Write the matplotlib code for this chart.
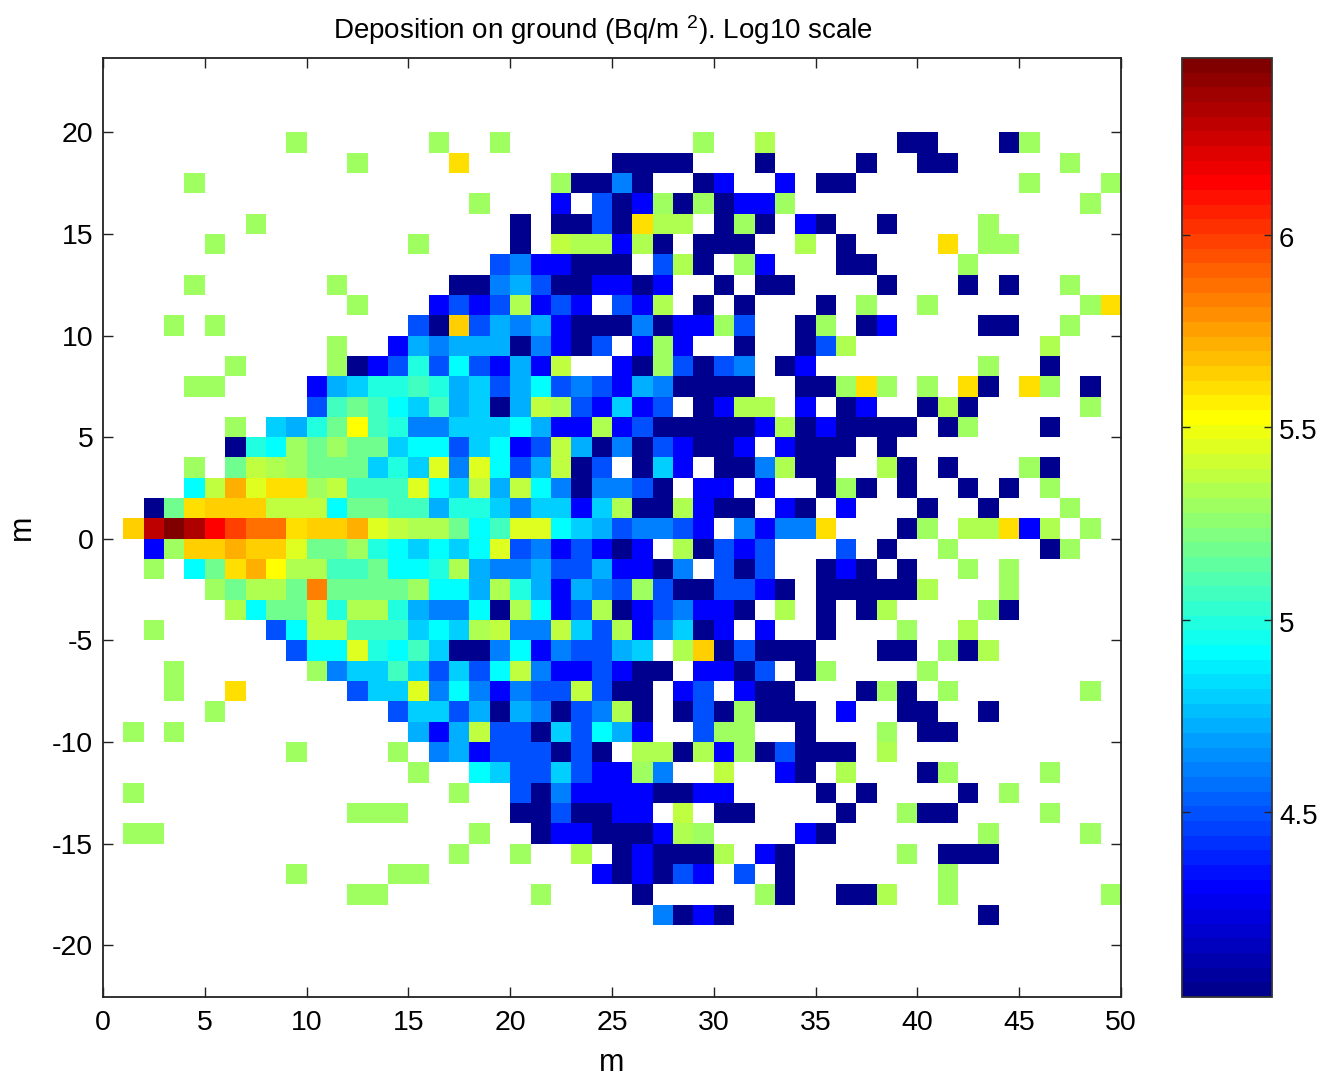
import numpy as np
import matplotlib
matplotlib.use("Agg")
import matplotlib.pyplot as plt
from matplotlib.colors import LinearSegmentedColormap
from matplotlib.transforms import ScaledTranslation

plt.rcParams['font.family'] = ['Liberation Sans', 'DejaVu Sans']
plt.rcParams['axes.unicode_minus'] = False
plt.rcParams['mathtext.default'] = 'regular'

# log10 deposition for each colour class
LEVELS = {
    'n': 4.04, 'b': 4.306, 'r': 4.497, 'a': 4.61, 's': 4.725, 'c': 4.80,
    'y': 4.915, 't': 4.99, 'g': 5.07, 'm': 5.18, 'l': 5.30, 'k': 5.335,
    'h': 5.37, 'i': 5.45, 'Y': 5.525, 'o': 5.60, 'O': 5.64, 'A': 5.716,
    'R': 5.83, 'E': 5.87, 'F': 5.984, 'X': 6.135, 'D': 6.29, 'W': 6.33,
    'Z': 6.44,
}

# row (lower y edge, m) -> runs of "first column:cell classes"
ROWS = {
    19: "9:l 16:l 19:l 29:l 32:k 39:nn 44:n 45:l",
    18: "12:l 17:o 25:nnnn 32:n 37:n 40:nn 47:l",
    17: "4:l 22:l 23:nn 25:a 26:n 29:n 30:b 33:b 35:nn 45:l 49:l",
    16: "18:l 22:b 24:r 25:n 26:b 27:l 28:n 29:l 30:n 31:bb 33:l 48:l",
    15: "7:l 20:n 22:nn 24:r 25:n 26:o 27:kk 30:n 31:l 32:n 34:b 35:n 38:n 43:l",
    14: "5:l 15:l 20:n 22:h 23:kk 25:b 26:k 27:n 29:nnn 34:k 36:n 41:o 43:ll",
    13: "19:r 20:a 21:bb 23:nnn 27:r 28:k 29:n 31:l 32:b 36:nn 42:l",
    12: "4:l 11:l 17:nn 19:a 20:s 21:r 22:nn 24:bb 26:n 27:b 30:n 32:nn 38:n 42:n 44:n 47:l",
    11: "12:l 16:b 17:r 18:b 19:r 20:k 21:b 22:r 23:b 25:r 26:b 27:k 29:n 31:n 35:n 37:l 40:l 48:l 49:o",
    10: "3:l 5:l 15:r 16:n 17:O 18:r 19:s 20:a 21:s 22:b 23:nnn 26:a 27:n 28:bb 30:l 31:r 34:n 35:l 37:n 38:b 43:nn 47:l",
    9: "11:l 14:b 15:s 16:a 17:sss 20:n 21:a 22:b 23:n 24:r 26:b 27:l 28:b 31:n 34:n 35:r 36:k 46:k",
    8: "6:l 11:l 12:n 13:b 14:r 15:t 16:r 17:y 18:r 19:b 20:s 21:b 22:h 25:b 26:n 27:l 28:r 29:n 30:r 31:a 33:n 34:b 43:l 46:n",
    7: "4:ll 10:b 11:s 12:c 13:tt 15:g 16:t 17:s 18:c 19:r 20:s 21:y 22:r 23:a 24:r 25:b 26:s 27:a 28:nnnn 34:nn 36:l 37:o 38:l 40:l 42:o 43:n 45:o 46:l 48:n",
    6: "10:r 11:g 12:m 13:g 14:y 15:c 16:g 17:s 18:c 19:n 20:s 21:h 22:k 23:r 24:b 25:c 26:b 27:r 29:n 30:b 31:kk 34:b 36:n 37:b 40:n 41:k 42:n 48:l",
    5: "6:l 8:c 9:s 10:t 11:m 12:Y 13:g 14:t 15:aa 17:ccc 20:y 21:s 22:bb 24:k 25:b 26:r 27:nnnnn 32:b 33:k 34:n 35:b 36:nnnn 41:n 42:l 46:n",
    4: "6:n 7:t 8:y 9:l 10:m 11:l 12:m 13:m 14:c 15:yy 17:r 18:c 19:y 20:b 21:r 22:h 23:s 24:n 25:a 26:n 27:r 28:b 29:nn 31:b 33:b 34:nnn 38:n",
    3: "4:l 6:m 7:h 8:k 9:l 10:m 11:m 12:m 13:c 14:t 15:c 16:i 17:a 18:i 19:y 20:r 21:s 22:h 23:n 24:r 26:n 27:c 28:b 30:nn 32:a 33:k 34:nn 38:k 39:n 41:n 45:l 46:n",
    2: "4:y 5:h 6:A 7:i 8:oo 10:l 11:h 12:ggg 15:i 16:y 17:c 18:h 19:s 20:h 21:y 22:a 23:n 24:aa 26:r 27:n 29:bb 32:b 35:n 36:l 37:n 39:n 42:n 44:n 46:l",
    1: "2:n 3:m 4:o 5:O 6:OO 8:h 9:h 10:h 11:y 12:mm 14:gg 16:s 17:tt 19:c 20:a 21:cc 23:b 24:c 25:k 26:nn 28:k 29:b 30:nn 33:b 34:n 36:b 40:n 43:n 47:l",
    0: "1:O 2:D 3:Z 4:W 5:X 6:F 7:EE 9:o 10:OO 12:A 13:i 14:h 15:kk 17:m 18:y 19:g 20:ii 22:y 23:c 24:s 25:r 26:aa 28:r 29:b 31:a 32:b 33:aa 35:o 39:n 40:l 42:kk 44:o 45:b 46:k 48:l",
    -1: "2:b 3:l 4:OO 6:A 7:OO 9:i 10:mm 12:l 13:t 14:y 15:c 16:y 17:c 18:y 19:i 20:r 21:a 22:b 23:r 24:b 25:n 26:b 28:k 29:n 30:r 31:b 32:r 36:r 38:n 41:l 46:n 47:l",
    -2: "2:l 4:y 5:m 6:o 7:A 8:Y 9:kk 11:gg 13:m 14:yy 16:t 17:k 18:s 19:aa 21:s 22:rr 24:s 25:bb 27:n 28:a 30:r 31:n 32:r 35:n 36:b 37:n 39:n 42:l 44:l",
    -3: "5:l 6:m 7:kk 9:m 10:R 11:mmm 14:m 15:l 16:y 17:y 18:s 19:k 20:t 21:s 22:b 23:s 24:a 25:r 26:l 27:r 28:nn 30:rr 32:b 33:n 35:nnnnn 40:k 44:l",
    -4: "6:k 7:y 8:m 9:m 10:h 11:t 12:kk 14:t 15:s 16:aa 18:y 19:n 20:k 21:y 22:b 23:r 24:k 25:n 26:b 27:r 28:a 29:bb 31:n 33:k 35:n 37:n 38:k 43:l 44:n",
    -5: "2:l 8:r 9:y 10:hh 12:g 13:gg 15:c 16:y 17:c 18:k 19:h 20:aa 22:h 23:c 24:r 25:k 26:b 27:a 28:c 29:n 30:b 32:b 35:n 39:l 42:k",
    -6: "9:r 10:y 11:y 12:i 13:t 14:y 15:g 16:c 17:nn 19:a 20:y 21:b 22:a 23:rr 25:s 26:c 28:k 29:O 30:n 31:r 32:nnn 38:nn 41:l 42:n 43:k",
    -7: "3:l 10:l 11:a 12:cc 14:g 15:c 16:r 17:c 18:r 19:y 20:h 21:a 22:bb 24:r 25:b 26:nn 29:bb 31:n 32:r 34:n 35:l 40:l",
    -8: "3:l 6:o 12:r 13:cc 15:i 16:a 17:y 18:a 19:b 20:a 21:rr 23:h 24:r 25:nn 28:b 29:r 31:b 32:nn 37:n 38:l 39:n 41:l 48:l",
    -9: "5:l 14:r 15:cc 17:r 18:s 19:n 20:s 21:a 22:n 23:r 24:a 25:k 26:n 28:n 29:r 30:n 31:l 32:nnn 36:b 39:nn 43:n",
    -10: "1:l 3:l 15:s 16:b 17:s 18:h 19:rr 21:n 22:c 23:r 24:y 25:s 26:b 29:r 30:ll 34:n 38:l 40:nn",
    -11: "9:l 14:l 16:a 17:s 18:b 19:rrr 22:n 23:r 24:n 26:kk 28:n 29:k 30:b 31:l 32:n 33:r 34:nnn 38:k",
    -12: "15:l 18:y 19:c 20:rr 22:c 23:r 24:bb 26:l 27:a 30:h 33:b 34:n 36:k 40:n 41:l 46:l",
    -13: "1:l 17:l 20:r 21:n 22:a 23:bbbb 27:nn 29:bb 35:n 37:n 42:n 44:l",
    -14: "12:lll 20:nn 22:r 23:nn 25:bb 28:h 30:nn 36:n 39:l 40:nn 46:l",
    -15: "1:ll 18:l 21:n 22:bb 24:nnn 27:b 28:k 29:l 34:b 35:n 43:l 48:l",
    -16: "17:l 20:l 23:k 25:n 26:b 27:nnn 30:k 32:b 33:n 39:l 41:nnn",
    -17: "9:l 14:ll 24:b 25:n 26:b 27:n 28:r 29:b 31:r 33:n 41:l",
    -18: "12:ll 21:l 26:n 32:l 33:n 36:nn 38:k 41:l 49:l",
    -19: "27:a 28:n 29:b 30:n 43:n",
}

X_TICKS = [0, 5, 10, 15, 20, 25, 30, 35, 40, 45, 50]
Y_TICKS = [-20, -15, -10, -5, 0, 5, 10, 15, 20]
CBAR_TICKS = [4.5, 5, 5.5, 6]
CBAR_LABELS = ['4.5', '5', '5.5', '6']

x_edges = np.arange(0, 51)
y_edges = np.arange(-19, 21)
grid = np.full((len(y_edges) - 1, len(x_edges) - 1), np.nan)
for row, text in ROWS.items():
    for run in text.split():
        start, codes = run.split(':')
        for offset, code in enumerate(codes):
            grid[row + 19, int(start) + offset] = LEVELS[code]

jet64 = LinearSegmentedColormap.from_list(
    'matlab_jet',
    [(0, (0, 0, .5625)), (7 / 63, (0, 0, 1)), (23 / 63, (0, 1, 1)),
     (39 / 63, (1, 1, 0)), (55 / 63, (1, 0, 0)), (1, (.5, 0, 0))], N=64)

W, H = 1325, 1077
fig = plt.figure(figsize=(W / 100, H / 100), dpi=100, facecolor='white')
ax = fig.add_axes([103 / W, 1 - 997 / H, (1121 - 103) / W, (997 - 58) / H])
mesh = ax.pcolormesh(x_edges, y_edges, grid, cmap=jet64, vmin=4.02, vmax=6.46,
                     edgecolors='none', antialiased=False)
ax.set_xlim(0, 50)
ax.set_ylim(-22.55, 23.66)
ax.set_xticks(X_TICKS)
ax.set_yticks(Y_TICKS)
ax.tick_params(direction='in', length=7.5, width=1.0, top=True, right=True,
               labelsize=20.5, color='#222222')
ax.tick_params(axis='x', pad=9)
ax.tick_params(axis='y', pad=7)
for s in ax.spines.values():
    s.set_linewidth(1.3)
    s.set_color('#222222')
ax.set_xlabel('m', fontsize=22, labelpad=9)
ax.set_ylabel('m', fontsize=22, labelpad=11)
fig.text(603 / W, 1 - 30 / H, 'Deposition on ground (Bq/m $^{2}$). Log10 scale',
         ha='center', va='center', fontsize=20)

cax = fig.add_axes([1182 / W, 1 - 997 / H, (1272 - 1182) / W, (997 - 58) / H])
cb = fig.colorbar(mesh, cax=cax, ticks=CBAR_TICKS)
cb.ax.set_yticklabels(CBAR_LABELS)
cb.ax.tick_params(direction='in', length=6, width=1.0, left=True, right=True,
                  labelsize=20, pad=5, color='#222222')
down = ScaledTranslation(0, -2 / 100, fig.dpi_scale_trans)
for label in cb.ax.get_yticklabels():
    label.set_transform(label.get_transform() + down)
cb.outline.set_linewidth(1.3)
cb.outline.set_edgecolor('#333333')

fig.savefig('out.png', dpi=100)
